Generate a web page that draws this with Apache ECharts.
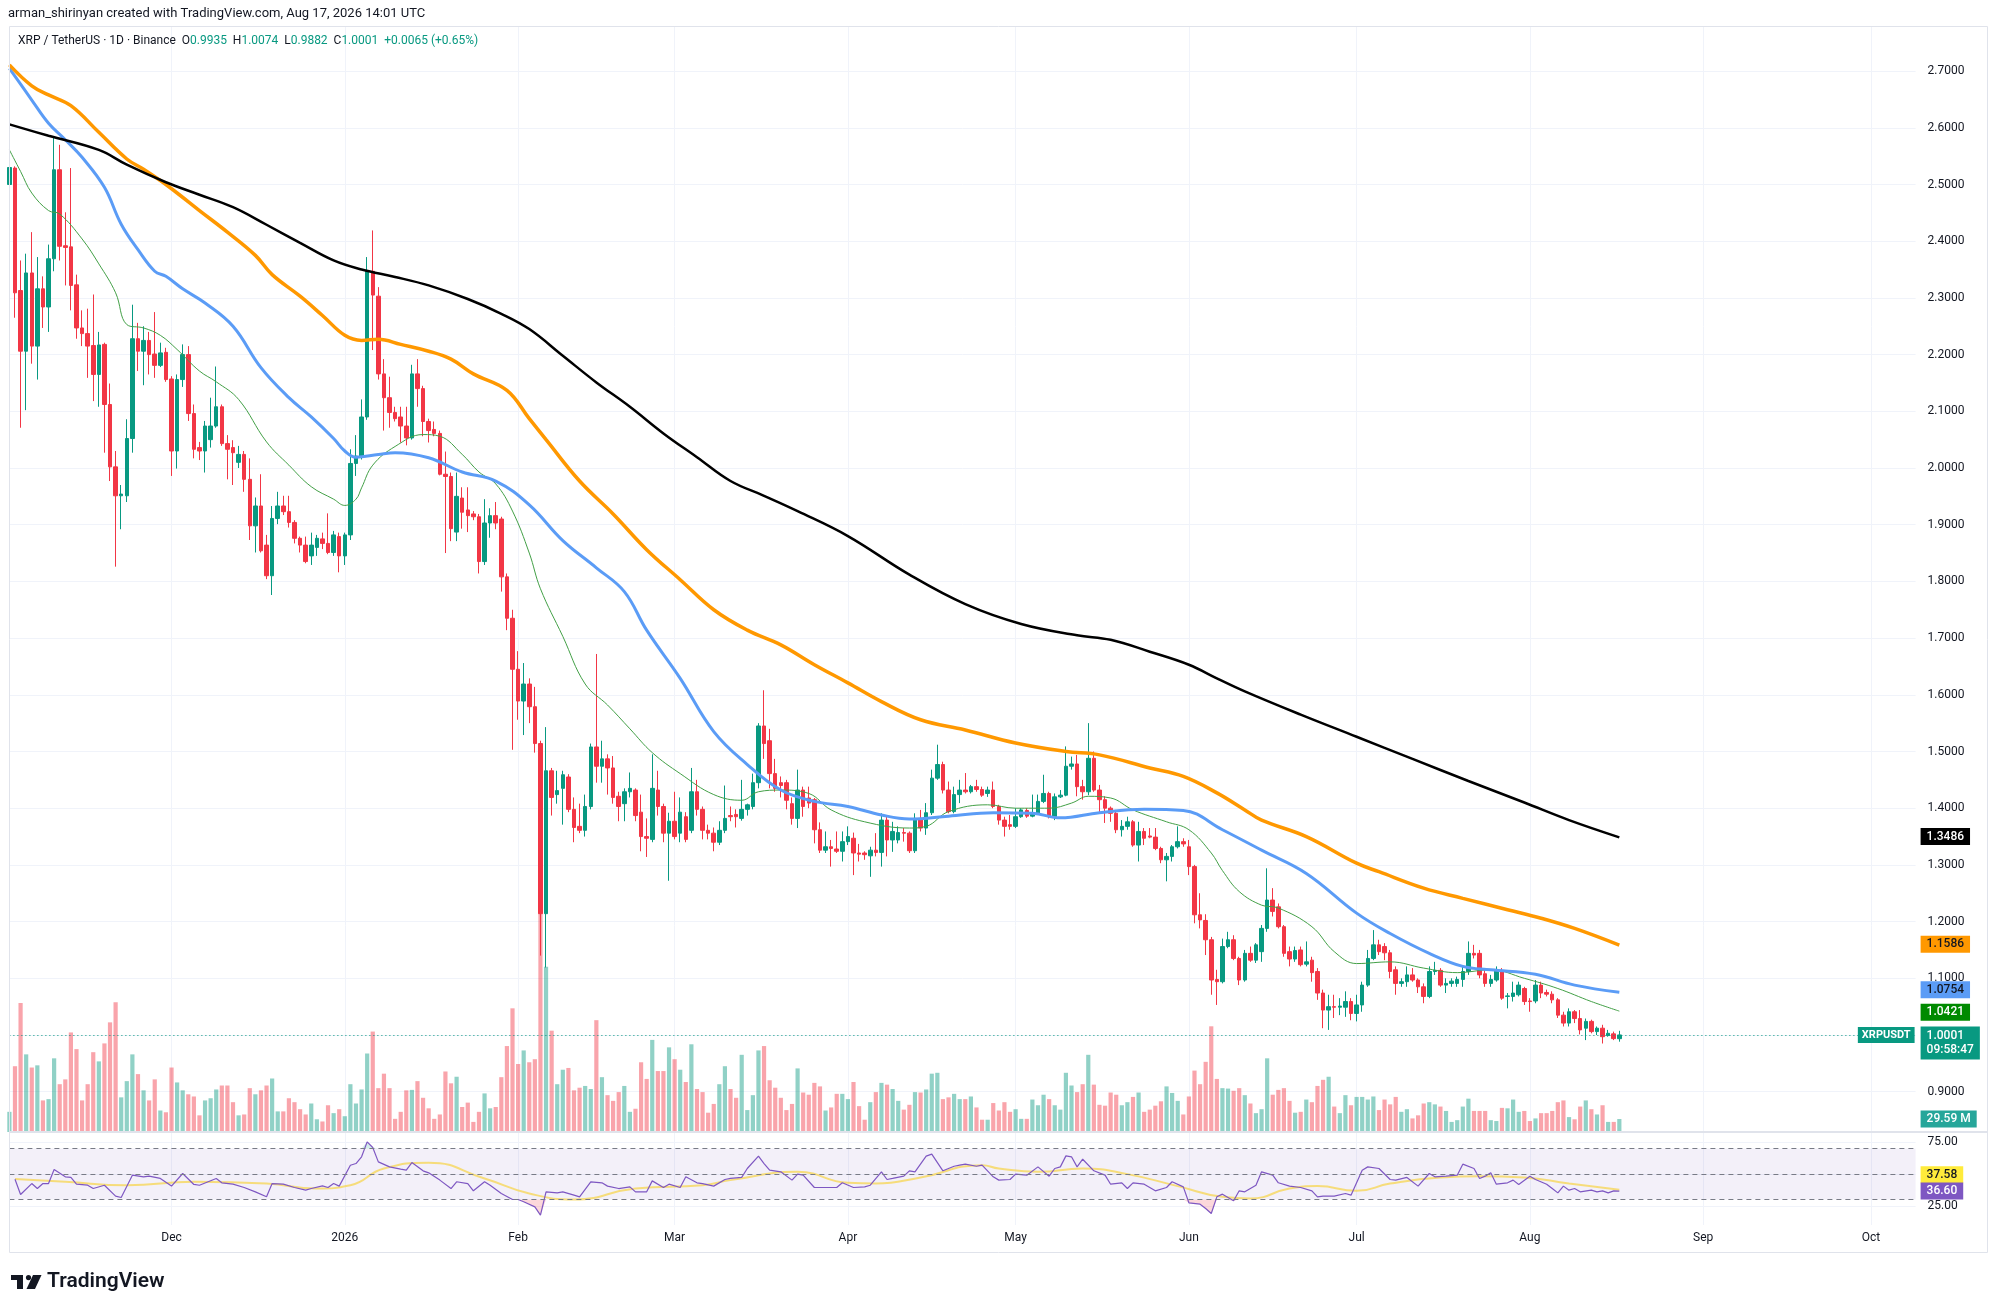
<!DOCTYPE html>
<html><head><meta charset="utf-8">
<script src="https://cdn.jsdelivr.net/npm/echarts@6/dist/echarts.min.js"></script>
<style>html,body{margin:0;padding:0;background:#fff}#c{width:1996px;height:1312px}</style>
</head><body><div id="c"></div>
<script>
// ---------- DATA ----------
const startDate = '2025-11-02';   // first category (partial candle at left edge)
const dayCount = 342;             // categories up to Oct 9, 2026 (empty future space)
// daily candles, index 0 = Nov 2 2025, last = Aug 17 2026
const opens = [2.500,
2.529,2.313,2.206,2.344,2.215,2.316,2.284,2.369,2.526,2.392,
2.390,2.323,2.247,2.237,2.216,2.165,2.218,2.112,2.002,1.951,
1.951,2.052,2.228,2.206,2.225,2.201,2.181,2.204,2.157,2.030,
2.156,2.200,2.096,2.036,2.030,2.050,2.074,2.108,2.043,2.036,
2.010,2.024,1.980,1.898,1.933,1.864,1.810,1.911,1.933,1.923,
1.904,1.876,1.864,1.845,1.860,1.875,1.867,1.851,1.879,1.845,
1.882,2.008,2.021,2.090,2.347,2.303,2.166,2.124,2.098,2.090,
2.074,2.053,2.166,2.140,2.082,2.068,2.061,1.989,1.985,1.887,
1.947,1.926,1.919,1.914,1.835,1.903,1.916,1.910,1.808,1.735,
1.645,1.589,1.619,1.579,1.514,1.214,1.466,1.424,1.435,1.455,
1.398,1.368,1.361,1.403,1.508,1.474,1.487,1.471,1.421,1.408,
1.429,1.432,1.393,1.350,1.345,1.432,1.403,1.356,1.377,1.356,
1.385,1.361,1.429,1.398,1.361,1.356,1.340,1.361,1.387,1.389,
1.382,1.398,1.403,1.445,1.545,1.519,1.461,1.445,1.445,1.408,
1.382,1.432,1.418,1.415,1.362,1.326,1.332,1.328,1.324,1.341,
1.347,1.321,1.321,1.316,1.326,1.322,1.379,1.344,1.344,1.357,
1.356,1.325,1.382,1.365,1.392,1.453,1.477,1.432,1.394,1.424,
1.432,1.429,1.438,1.433,1.426,1.432,1.403,1.379,1.371,1.368,
1.385,1.396,1.386,1.391,1.412,1.426,1.385,1.420,1.423,1.474,
1.478,1.438,1.429,1.488,1.432,1.415,1.400,1.391,1.362,1.368,
1.376,1.335,1.359,1.351,1.349,1.329,1.309,1.315,1.332,1.341,
1.332,1.297,1.212,1.202,1.168,1.098,1.094,1.156,1.168,1.135,
1.097,1.144,1.132,1.147,1.188,1.238,1.226,1.191,1.147,1.134,
1.150,1.125,1.132,1.112,1.074,1.044,1.050,1.049,1.049,1.059,
1.038,1.053,1.088,1.135,1.159,1.156,1.145,1.115,1.091,1.094,
1.106,1.097,1.085,1.068,1.112,1.114,1.088,1.091,1.091,1.098,
1.112,1.144,1.144,1.108,1.091,1.097,1.112,1.068,1.068,1.071,
1.082,1.060,1.060,1.088,1.075,1.072,1.062,1.035,1.021,1.041,
1.029,1.012,1.024,1.006,1.012,0.999,1.002,0.9935];
const closes = [2.530,
2.309,2.206,2.344,2.215,2.316,2.284,2.369,2.526,2.391,2.389,
2.322,2.247,2.237,2.215,2.165,2.217,2.112,2.002,1.951,1.954,
2.052,2.228,2.206,2.225,2.200,2.181,2.203,2.156,2.030,2.156,
2.200,2.096,2.033,2.030,2.074,2.074,2.108,2.043,2.033,2.027,
2.024,1.980,1.898,1.933,1.854,1.810,1.911,1.933,1.923,1.904,
1.876,1.864,1.835,1.864,1.876,1.867,1.851,1.882,1.845,1.882,
2.008,2.021,2.090,2.347,2.305,2.166,2.124,2.098,2.087,2.074,
2.053,2.166,2.140,2.082,2.066,2.061,1.989,1.985,1.893,1.950,
1.922,1.916,1.914,1.835,1.903,1.916,1.903,1.808,1.735,1.645,
1.589,1.619,1.579,1.514,1.214,1.466,1.419,1.431,1.459,1.398,
1.366,1.361,1.403,1.508,1.474,1.487,1.471,1.419,1.403,1.429,
1.435,1.387,1.350,1.347,1.435,1.403,1.356,1.377,1.350,1.393,
1.345,1.429,1.398,1.361,1.356,1.340,1.361,1.382,1.385,1.385,
1.398,1.406,1.445,1.545,1.514,1.461,1.435,1.440,1.414,1.382,
1.432,1.403,1.409,1.362,1.326,1.332,1.329,1.324,1.341,1.350,
1.321,1.319,1.318,1.326,1.322,1.379,1.344,1.359,1.357,1.356,
1.325,1.382,1.365,1.392,1.453,1.477,1.432,1.394,1.424,1.432,
1.429,1.438,1.433,1.423,1.432,1.403,1.379,1.368,1.368,1.385,
1.397,1.386,1.391,1.412,1.426,1.385,1.420,1.423,1.474,1.478,
1.438,1.429,1.488,1.432,1.415,1.400,1.391,1.362,1.368,1.376,
1.335,1.359,1.347,1.349,1.329,1.309,1.315,1.332,1.341,1.337,
1.297,1.212,1.203,1.168,1.097,1.094,1.156,1.168,1.135,1.097,
1.144,1.132,1.159,1.188,1.238,1.218,1.191,1.144,1.134,1.149,
1.124,1.129,1.110,1.074,1.044,1.050,1.049,1.051,1.059,1.038,
1.053,1.088,1.135,1.159,1.147,1.145,1.112,1.091,1.094,1.106,
1.097,1.085,1.068,1.112,1.114,1.088,1.091,1.095,1.098,1.112,
1.144,1.141,1.106,1.091,1.098,1.114,1.065,1.069,1.074,1.088,
1.059,1.059,1.088,1.074,1.072,1.062,1.035,1.021,1.041,1.029,
1.009,1.024,1.006,1.012,0.997,1.003,0.9936,1.0001];
const highs = [2.550,
2.532,2.366,2.378,2.416,2.372,2.338,2.394,2.583,2.570,2.451,
2.529,2.341,2.278,2.281,2.306,2.240,2.221,2.149,2.030,1.970,
2.086,2.288,2.256,2.250,2.240,2.275,2.221,2.212,2.162,2.165,
2.218,2.215,2.112,2.046,2.083,2.124,2.179,2.112,2.058,2.049,
2.039,2.030,2.017,1.948,1.989,1.882,1.933,1.958,1.951,1.951,
1.908,1.879,1.879,1.886,1.882,1.886,1.920,1.889,1.886,1.886,
2.033,2.058,2.121,2.372,2.419,2.319,2.192,2.161,2.108,2.108,
2.108,2.182,2.192,2.145,2.087,2.082,2.066,2.029,1.992,1.992,
1.966,1.966,1.924,1.919,1.945,1.929,1.940,1.914,1.814,1.750,
1.677,1.656,1.629,1.614,1.519,1.543,1.471,1.466,1.466,1.460,
1.419,1.408,1.424,1.514,1.672,1.519,1.495,1.492,1.429,1.435,
1.463,1.435,1.424,1.382,1.495,1.466,1.408,1.392,1.429,1.419,
1.393,1.471,1.450,1.403,1.371,1.366,1.377,1.440,1.403,1.398,
1.450,1.408,1.461,1.550,1.608,1.540,1.487,1.456,1.450,1.419,
1.468,1.438,1.438,1.418,1.375,1.359,1.344,1.359,1.359,1.368,
1.357,1.337,1.324,1.332,1.356,1.391,1.388,1.376,1.368,1.365,
1.359,1.391,1.397,1.409,1.468,1.512,1.482,1.447,1.438,1.450,
1.462,1.441,1.450,1.438,1.438,1.447,1.406,1.385,1.388,1.400,
1.400,1.400,1.424,1.424,1.459,1.429,1.426,1.432,1.509,1.491,
1.494,1.450,1.550,1.500,1.441,1.421,1.403,1.397,1.379,1.385,
1.379,1.376,1.365,1.365,1.365,1.332,1.321,1.335,1.368,1.347,
1.344,1.300,1.250,1.213,1.173,1.115,1.170,1.182,1.176,1.138,
1.150,1.156,1.162,1.194,1.294,1.259,1.232,1.194,1.156,1.156,
1.156,1.165,1.138,1.118,1.080,1.071,1.071,1.065,1.077,1.065,
1.071,1.094,1.150,1.185,1.168,1.162,1.150,1.121,1.100,1.121,
1.118,1.100,1.091,1.121,1.129,1.118,1.100,1.100,1.103,1.121,
1.165,1.159,1.150,1.118,1.106,1.121,1.118,1.074,1.094,1.094,
1.085,1.065,1.097,1.094,1.080,1.077,1.065,1.041,1.047,1.044,
1.044,1.029,1.027,1.015,1.018,1.009,1.006,1.0074];
const lows = [2.470,
2.265,2.071,2.102,2.184,2.156,2.247,2.240,2.347,2.366,2.322,
2.278,2.228,2.215,2.159,2.118,2.108,2.027,1.977,1.826,1.892,
1.940,2.027,2.171,2.146,2.165,2.159,2.178,2.152,1.986,1.999,
2.143,2.083,2.017,2.014,1.992,2.036,2.071,2.039,1.980,1.970,
2.000,1.958,1.873,1.851,1.851,1.804,1.776,1.901,1.917,1.895,
1.867,1.851,1.832,1.829,1.845,1.857,1.848,1.845,1.816,1.829,
1.873,1.986,2.015,2.085,2.208,2.156,2.066,2.071,2.082,2.045,
2.040,2.050,2.108,2.056,2.045,2.056,1.987,1.850,1.871,1.871,
1.893,1.887,1.908,1.814,1.829,1.877,1.892,1.782,1.714,1.503,
1.556,1.529,1.550,1.498,1.140,1.119,1.387,1.408,1.371,1.393,
1.340,1.356,1.350,1.398,1.445,1.445,1.424,1.408,1.377,1.377,
1.419,1.377,1.324,1.314,1.340,1.387,1.340,1.272,1.345,1.340,
1.340,1.356,1.387,1.345,1.345,1.324,1.335,1.356,1.377,1.366,
1.378,1.387,1.398,1.435,1.487,1.435,1.429,1.419,1.398,1.371,
1.365,1.385,1.400,1.338,1.321,1.321,1.297,1.321,1.306,1.335,
1.282,1.306,1.309,1.279,1.315,1.297,1.315,1.323,1.338,1.341,
1.321,1.321,1.359,1.353,1.388,1.450,1.426,1.391,1.391,1.409,
1.426,1.426,1.429,1.420,1.420,1.400,1.371,1.350,1.362,1.365,
1.383,1.383,1.384,1.388,1.409,1.382,1.379,1.418,1.421,1.468,
1.421,1.415,1.423,1.429,1.391,1.374,1.376,1.356,1.350,1.362,
1.332,1.306,1.335,1.347,1.326,1.303,1.271,1.306,1.329,1.332,
1.282,1.197,1.188,1.141,1.071,1.053,1.091,1.153,1.132,1.088,
1.094,1.129,1.127,1.129,1.182,1.209,1.188,1.138,1.121,1.129,
1.121,1.121,1.094,1.062,1.012,1.009,1.030,1.035,1.032,1.026,
1.024,1.041,1.085,1.132,1.141,1.132,1.100,1.071,1.085,1.085,
1.094,1.074,1.056,1.065,1.106,1.085,1.074,1.085,1.085,1.085,
1.106,1.135,1.100,1.085,1.085,1.094,1.062,1.047,1.059,1.068,
1.053,1.041,1.056,1.065,1.068,1.056,1.030,1.015,1.015,1.021,
1.001,0.991,1.003,1.000,0.985,0.997,0.991,0.9882];
// volume in millions
const volumes = [46,
150,294,177,147,152,72,75,168,109,120,
227,189,72,109,182,161,202,250,296,79,
116,177,132,95,72,120,49,45,147,113,
95,86,81,38,72,77,97,106,106,68,
38,40,100,86,95,106,122,47,47,77,
68,52,40,65,29,24,61,43,52,36,
109,65,97,179,229,100,133,100,30,46,
95,96,116,78,54,30,40,138,111,126,
57,67,23,46,88,54,57,125,196,282,
155,186,159,166,629,377,231,109,142,146,
95,101,105,98,255,125,84,71,91,105,
46,53,159,121,210,139,139,193,166,142,
114,200,98,91,44,64,109,150,98,78,
176,50,84,186,196,118,101,78,50,64,
145,90,85,112,104,49,56,87,87,75,
114,59,28,68,91,112,108,98,71,51,
62,91,90,97,133,135,75,79,87,75,
75,81,56,28,28,66,49,68,46,52,
30,30,74,61,85,75,61,51,135,106,
91,109,176,108,62,60,90,85,61,68,
80,90,46,51,60,70,104,89,71,40,
81,140,109,160,241,121,100,99,94,100,
84,65,43,52,168,85,96,100,71,44,
46,74,68,105,119,126,58,43,84,61,
80,80,74,81,50,74,63,80,46,52,
31,38,65,68,63,58,48,23,27,58,
76,48,48,48,27,25,55,54,74,46,
48,25,31,43,43,48,68,72,34,29,
58,72,52,40,61,23,23,29.59];
// moving averages: [day index from Nov 3 2025, value]
const maBlack = [[-1,2.606],[6,2.586],[15,2.561],[20,2.535],[27,2.504],[33,2.482],[39,2.460],[45,2.429],[51,2.397],[57,2.366],[62,2.350],[68,2.337],[74,2.322],[81,2.298],[87,2.272],[92,2.245],[98,2.198],[104,2.151],[110,2.108],[116,2.061],[122,2.019],[128,1.977],[134,1.951],[140,1.924],[149,1.880],[160,1.812],[170,1.760],[180,1.725],[190,1.705],[196,1.697],[203,1.676],[210,1.653],[215,1.629],[220,1.606],[230,1.565],[240,1.526],[250,1.487],[260,1.448],[270,1.410],[278,1.379],[287,1.3486]];
const maOrange = [[-1,2.711],[3,2.674],[6,2.658],[10,2.639],[15,2.592],[20,2.545],[23,2.527],[26,2.507],[29,2.485],[33,2.454],[38,2.416],[43,2.375],[46,2.341],[51,2.303],[55,2.269],[59,2.234],[62,2.225],[65,2.227],[69,2.218],[74,2.206],[78,2.192],[82,2.166],[88,2.137],[92,2.087],[95,2.050],[101,1.977],[107,1.919],[113,1.856],[119,1.803],[125,1.750],[131,1.714],[137,1.688],[143,1.653],[149,1.621],[155,1.588],[162,1.556],[170,1.538],[179,1.515],[188,1.500],[194,1.494],[203,1.471],[209,1.456],[215,1.427],[220,1.397],[223,1.379],[231,1.350],[240,1.303],[244,1.288],[252,1.259],[259,1.241],[267,1.221],[273,1.206],[279,1.188],[287,1.1586]];
const maBlue = [[-1,2.705],[3,2.649],[6,2.608],[9,2.579],[12,2.548],[16,2.495],[19,2.430],[22,2.385],[25,2.347],[27,2.338],[30,2.316],[34,2.291],[39,2.250],[44,2.177],[49,2.124],[53,2.090],[57,2.052],[59,2.030],[61,2.019],[65,2.024],[68,2.027],[74,2.018],[80,1.993],[86,1.977],[92,1.935],[98,1.872],[104,1.824],[109,1.782],[113,1.714],[119,1.629],[125,1.535],[131,1.477],[137,1.432],[143,1.412],[149,1.403],[155,1.388],[160,1.381],[167,1.386],[175,1.392],[182,1.391],[187,1.383],[194,1.392],[202,1.398],[209,1.396],[216,1.362],[223,1.326],[231,1.285],[240,1.215],[246,1.179],[253,1.144],[259,1.121],[264,1.115],[272,1.107],[279,1.088],[287,1.0754]];
const maGreen = [[-1,2.561],[1,2.523],[3,2.485],[6,2.454],[8,2.448],[12,2.404],[15,2.360],[18,2.309],[20,2.253],[23,2.247],[26,2.234],[29,2.209],[33,2.171],[36,2.152],[40,2.121],[45,2.046],[49,2.005],[53,1.967],[57,1.945],[59,1.934],[61,1.945],[62,1.965],[64,2.005],[68,2.038],[73,2.059],[76,2.056],[80,2.024],[83,1.993],[86,1.972],[89,1.924],[92,1.850],[94,1.787],[98,1.703],[102,1.619],[106,1.582],[110,1.540],[114,1.498],[119,1.461],[125,1.424],[130,1.414],[133,1.429],[137,1.432],[142,1.426],[146,1.397],[152,1.376],[160,1.365],[163,1.368],[167,1.394],[174,1.406],[179,1.400],[185,1.400],[189,1.409],[192,1.421],[196,1.418],[200,1.397],[206,1.376],[210,1.362],[214,1.321],[216,1.290],[219,1.253],[223,1.229],[226,1.224],[232,1.191],[236,1.147],[240,1.126],[246,1.129],[252,1.118],[258,1.110],[264,1.115],[270,1.100],[276,1.082],[282,1.059],[287,1.0421]];
const rsi = [[0,45.9],[1,33.9],[3,42.5],[4,38.6],[5,42.5],[6,42.5],[7,53.5],[9,47.8],[10,47.3],[11,42.0],[13,41.2],[14,38.6],[16,41.2],[18,32.6],[19,31.6],[21,49.1],[23,47.8],[24,48.3],[26,46.5],[28,40.5],[30,50.4],[32,41.8],[33,41.2],[36,46.5],[37,43.1],[39,42.0],[41,39.4],[43,36.0],[45,32.1],[46,42.5],[48,42.0],[50,39.4],[52,37.3],[53,38.6],[55,40.7],[56,39.4],[57,42.5],[58,40.5],[60,56.9],[61,58.2],[62,63.5],[63,75.2],[64,70.8],[65,59.5],[67,55.6],[69,53.8],[70,53.0],[71,59.0],[73,52.5],[74,50.9],[76,45.2],[78,38.6],[79,43.9],[81,42.5],[82,36.8],[84,43.9],[85,41.2],[87,34.7],[89,30.0],[90,30.0],[91,28.2],[93,24.2],[94,17.7],[95,36.0],[97,35.2],[98,36.0],[100,33.4],[101,32.1],[103,43.9],[105,43.1],[106,40.5],[108,38.6],[110,39.9],[111,36.0],[113,36.0],[114,44.6],[116,39.4],[117,42.0],[119,39.4],[120,47.8],[122,43.1],[123,42.5],[125,40.5],[127,45.7],[128,46.5],[130,47.3],[131,54.3],[133,64.0],[134,58.2],[135,53.0],[137,51.7],[139,45.2],[140,49.9],[141,49.1],[143,39.4],[145,39.4],[147,39.4],[148,43.1],[150,39.4],[152,39.9],[153,41.2],[155,51.7],[156,45.7],[157,46.5],[159,48.3],[160,52.5],[161,51.7],[163,64.0],[164,65.6],[166,52.5],[168,56.1],[169,56.9],[170,57.7],[172,56.1],[173,56.9],[175,47.8],[176,45.2],[178,45.7],[179,49.9],[181,49.1],[183,55.6],[185,48.3],[186,54.3],[187,55.6],[188,64.2],[189,63.5],[190,55.6],[191,61.6],[193,52.5],[195,49.1],[196,42.0],[198,43.1],[199,38.6],[200,43.1],[202,42.0],[204,36.8],[206,39.4],[207,43.9],[209,39.9],[210,27.4],[212,26.3],[213,22.9],[214,19.0],[215,32.1],[216,34.2],[218,29.0],[219,36.8],[220,36.0],[222,41.2],[223,51.7],[225,49.1],[226,43.1],[228,40.5],[230,39.4],[232,36.8],[233,32.1],[234,32.6],[236,32.6],[238,34.7],[239,33.4],[241,53.0],[242,55.6],[244,54.3],[246,45.7],[247,45.2],[249,47.3],[251,40.5],[253,50.4],[254,47.8],[256,48.3],[258,49.1],[259,57.7],[261,54.3],[262,46.5],[263,48.3],[264,50.9],[265,42.0],[267,43.1],[268,45.2],[269,41.8],[271,48.3],[272,45.7],[274,42.0],[275,38.6],[276,35.2],[277,40.5],[278,37.3],[279,38.6],[280,36.0],[282,37.3],[283,36.0],[284,36.8],[285,35.2],[286,36.8],[287,36.60]];
const rsiMA = [[0,46.0],[9,43.9],[20,41.2],[32,43.9],[45,42.5],[54,38.6],[60,41.2],[66,54.3],[74,58.8],[84,46.5],[92,34.7],[100,30.0],[111,38.6],[123,41.2],[128,45.2],[140,51.7],[149,43.1],[154,42.5],[162,47.3],[173,56.9],[176,54.3],[183,51.7],[191,54.3],[199,49.9],[208,40.5],[216,32.1],[221,30.8],[228,38.6],[233,40.5],[240,36.8],[246,42.5],[255,47.3],[262,48.3],[270,47.3],[278,42.5],[287,37.58]];
const rsiLevels = [70, 50, 30];
const rsiTickLabels = {75: '75.00', 25: '25.00'};
const monthNames = ['Jan','Feb','Mar','Apr','May','Jun','Jul','Aug','Sep','Oct','Nov','Dec'];
const countdown = '09:58:47';
const symbolName = 'XRPUSDT';
const headerText = 'arman_shirinyan created with TradingView.com, Aug 17, 2026 14:01 UTC';
const titleText = 'XRP / TetherUS · 1D · Binance';

// ---------- BUILD ----------
const FONT = 'Roboto, "Liberation Sans", Arial, sans-serif';
const UP = '#089981', DOWN = '#f23645';
const HIDDEN_LINE = { color: 'rgba(0,0,0,0)', width: 0 };
const cats = [];
{ const t0 = Date.parse(startDate + 'T00:00:00Z');
  for (let i = 0; i < dayCount; i++) cats.push(new Date(t0 + i * 86400000).toISOString().slice(0, 10)); }
const isMonthStart = v => v.slice(8, 10) === '01';
const monthLabel = v => { const m = +v.slice(5, 7); return m === 1 ? v.slice(0, 4) : monthNames[m - 1]; };
const toXY = arr => arr.map(p => [p[0] + 1, p[1]]);
const n = closes.length;
const candleData = opens.map((o, i) => [o, closes[i], lows[i], highs[i]]);
const volData = volumes.map((v, i) => ({ value: v, itemStyle: { color: closes[i] >= opens[i] ? 'rgba(8,153,129,0.45)' : 'rgba(242,54,69,0.45)' } }));
const lastClose = closes[n - 1], prevClose = closes[n - 2];
const chg = lastClose - prevClose;
const lastRsi = rsi[rsi.length - 1][1], lastRsiMA = rsiMA[rsiMA.length - 1][1];

const L = 9.4, R = 80.4;
const boxLabel = (bg, fg, txt, extra) => Object.assign({ show: true, position: 'end', distance: 5, formatter: txt,
  backgroundColor: bg, color: fg, padding: [2, 6, 2, 6], fontSize: 12, fontWeight: 500, lineHeight: 13, fontFamily: FONT, opacity: 1 }, extra || {});
const maSeries = (name, arr, color, width, fg, boxColor) => ({
  name, type: 'line', xAxisIndex: 0, yAxisIndex: 0, data: toXY(arr), smooth: 0.4, showSymbol: false, z: 5,
  lineStyle: { color, width }, silent: true,
  markLine: { silent: true, symbol: ['none', 'none'], lineStyle: HIDDEN_LINE,
    data: [{ yAxis: arr[arr.length - 1][1], lineStyle: HIDDEN_LINE, label: boxLabel(boxColor || color, fg, arr[arr.length - 1][1].toFixed(4)) }] }
});

const option = {
  animation: false,
  backgroundColor: '#ffffff',
  textStyle: { fontFamily: FONT },
  grid: [
    { left: L, right: R, top: 14.4, height: 1134 },
    { left: L, right: R, top: 832, height: 300 },
    { left: L, right: R, top: 1110.25, height: 127.5 },
    { left: L, right: R, top: 27, height: 1198 }
  ],
  xAxis: [0, 1, 2].map(g => ({ type: 'category', gridIndex: g, data: cats, boundaryGap: false, show: false })).concat([{
    type: 'category', gridIndex: 3, data: cats, boundaryGap: false,
    axisLine: { show: false }, axisTick: { show: false },
    axisLabel: { interval: (i, v) => isMonthStart(v), formatter: monthLabel, color: '#131722', fontSize: 12, margin: 7, fontFamily: FONT },
    splitLine: { show: true, interval: (i, v) => isMonthStart(v), lineStyle: { color: '#f0f3fa', width: 1 } }
  }]),
  yAxis: [
    { type: 'value', gridIndex: 0, position: 'right', min: 0.8, max: 2.8, interval: 0.1,
      axisLine: { show: false }, axisTick: { show: false },
      axisLabel: { formatter: v => v.toFixed(4), showMinLabel: false, showMaxLabel: false, color: '#131722', fontSize: 12, margin: 12, fontFamily: FONT },
      splitLine: { show: true, showMinLine: false, showMaxLine: false, lineStyle: { color: '#f0f3fa' } } },
    { type: 'value', gridIndex: 1, min: 0, max: 684, show: false },
    { type: 'value', gridIndex: 2, position: 'right', min: 0, max: 100, interval: 25,
      axisLine: { show: false }, axisTick: { show: false },
      axisLabel: { formatter: v => rsiTickLabels[v] || '', color: '#131722', fontSize: 12, margin: 12, fontFamily: FONT },
      splitLine: { show: true, showMinLine: false, showMaxLine: false, lineStyle: { color: '#f0f3fa' } } },
    { type: 'value', gridIndex: 3, show: false }
  ],
  series: [
    { name: 'price', type: 'candlestick', xAxisIndex: 0, yAxisIndex: 0, data: candleData, barWidth: 4, z: 2,
      itemStyle: { color: UP, color0: DOWN, borderColor: UP, borderColor0: DOWN, borderWidth: 1 },
      markLine: { silent: true, symbol: ['none', 'none'],
        data: [
          { yAxis: lastClose, lineStyle: { type: [1, 3], color: UP, width: 1 },
            label: boxLabel(UP, '#ffffff', lastClose.toFixed(4) + '\n' + countdown, { lineHeight: 14, padding: [2, 6, 3, 6], offset: [0, 8] }) },
          { yAxis: lastClose, lineStyle: HIDDEN_LINE,
            label: { show: true, position: 'insideEnd', distance: 1, formatter: symbolName, backgroundColor: UP, color: '#fff',
              padding: [2, 4, 1, 4], fontSize: 11, fontWeight: 'bold', lineHeight: 13, fontFamily: FONT, opacity: 1 } }
        ] } },
    { name: 'volume', type: 'bar', xAxisIndex: 1, yAxisIndex: 1, data: volData, barWidth: 4.2, z: 3, silent: true,
      markLine: { silent: true, symbol: ['none', 'none'], lineStyle: HIDDEN_LINE,
        data: [{ yAxis: volumes[n - 1], lineStyle: HIDDEN_LINE, label: boxLabel('#26a69a', '#ffffff', volumes[n - 1].toFixed(2) + ' M') }] } },
    maSeries('ma1', maGreen, '#43a047', 1, '#ffffff', '#008a00'),
    maSeries('ma2', maBlue, '#5b9cf6', 3, '#131722'),
    maSeries('ma3', maOrange, '#ff9800', 3.5, '#131722'),
    maSeries('ma4', maBlack, '#000000', 2.5, '#ffffff'),
    { name: 'rsiLowFill', type: 'line', xAxisIndex: 2, yAxisIndex: 2, data: toXY(rsi.map(p => [p[0], Math.min(p[1], 30)])),
      showSymbol: false, lineStyle: { width: 0 }, areaStyle: { origin: 30, color: 'rgba(242,54,69,0.28)' }, z: 2, silent: true },
    { name: 'rsiHighFill', type: 'line', xAxisIndex: 2, yAxisIndex: 2, data: toXY(rsi.map(p => [p[0], Math.max(p[1], 70)])),
      showSymbol: false, lineStyle: { width: 0 }, areaStyle: { origin: 70, color: 'rgba(8,153,129,0.25)' }, z: 2, silent: true },
    { name: 'rsiMA', type: 'line', xAxisIndex: 2, yAxisIndex: 2, data: toXY(rsiMA), smooth: 0.5, showSymbol: false, z: 3, silent: true,
      lineStyle: { color: 'rgba(247,214,80,0.75)', width: 2 },
      markLine: { silent: true, symbol: ['none', 'none'], lineStyle: HIDDEN_LINE,
        data: [{ yAxis: lastRsiMA, lineStyle: HIDDEN_LINE, label: boxLabel('#ffeb3b', '#131722', lastRsiMA.toFixed(2), { offset: [0, -15] }) }] } },
    { name: 'rsi', type: 'line', xAxisIndex: 2, yAxisIndex: 2, data: toXY(rsi), showSymbol: false, z: 4, silent: true,
      lineStyle: { color: '#7e57c2', width: 1.2 },
      markArea: { silent: true, itemStyle: { color: 'rgba(126,87,194,0.09)' }, data: [[{ yAxis: 30 }, { yAxis: 70 }]] },
      markLine: { silent: true, symbol: ['none', 'none'], label: { show: false },
        lineStyle: { type: [5, 4], color: '#787b86', width: 1 },
        data: rsiLevels.map(v => ({ yAxis: v })).concat([{ yAxis: lastRsi, lineStyle: HIDDEN_LINE,
          label: boxLabel('#7e57c2', '#ffffff', lastRsi.toFixed(2)) }]) } }
  ],
  graphic: [
    { type: 'rect', silent: true, z: 50, shape: { x: 9.5, y: 26.5, width: 1978, height: 1226 }, style: { fill: 'none', stroke: '#e0e3eb', lineWidth: 1 } },
    { type: 'line', silent: true, z: 50, shape: { x1: 9.5, y1: 1132, x2: 1987.5, y2: 1132 }, style: { stroke: '#e0e3eb', lineWidth: 2 } },
    { type: 'text', silent: true, z: 60, x: 8, y: 14, style: { text: headerText, fill: '#131722', font: '13px ' + FONT, verticalAlign: 'middle' } },
    { type: 'text', silent: true, z: 60, x: 18, y: 41, style: {
        text: titleText + '  {k|O}{v|' + opens[n - 1].toFixed(4) + '}  {k|H}{v|' + highs[n - 1].toFixed(4) + '}  {k|L}{v|' + lows[n - 1].toFixed(4) +
          '}  {k|C}{v|' + lastClose.toFixed(4) + '}  {v|' + (chg >= 0 ? '+' : '') + chg.toFixed(4) + ' (' + (chg >= 0 ? '+' : '') + (chg / prevClose * 100).toFixed(2) + '%)}',
        fill: '#131722', font: '12px ' + FONT, verticalAlign: 'middle',
        rich: { k: { fill: '#131722', font: '12px ' + FONT }, v: { fill: UP, font: '12px ' + FONT } } } },
    { type: 'rect', silent: true, z: 60, shape: { x: 11, y: 1275, width: 12, height: 5 }, style: { fill: '#131722' } },
    { type: 'rect', silent: true, z: 60, shape: { x: 17, y: 1275, width: 6, height: 14 }, style: { fill: '#131722' } },
    { type: 'circle', silent: true, z: 60, shape: { cx: 28.5, cy: 1277.6, r: 2.6 }, style: { fill: '#131722' } },
    { type: 'polygon', silent: true, z: 60, shape: { points: [[33, 1275], [41.5, 1275], [35, 1289], [26.5, 1289]] }, style: { fill: '#131722' } },
    { type: 'text', silent: true, z: 60, x: 47, y: 1282, style: { text: 'TradingView', fill: '#131722', font: '600 21px ' + FONT, verticalAlign: 'middle' } }
  ]
};
const chart = echarts.init(document.getElementById('c'), null, { renderer: 'canvas' });
chart.setOption(option);
</script>
</body></html>
